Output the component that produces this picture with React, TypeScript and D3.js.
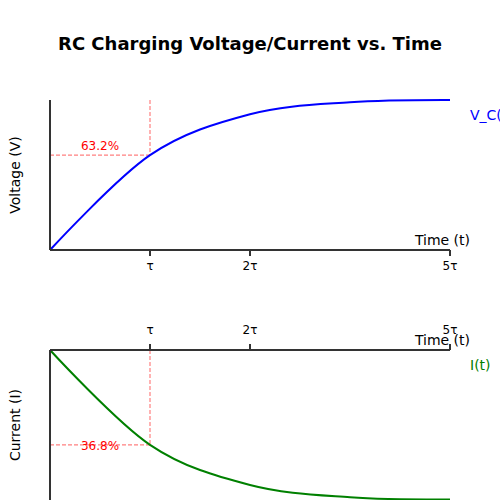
import React from "react";
import * as d3 from "d3";

const W = 500;
const H = 500;

const title = "RC Charging Voltage/Current vs. Time";
// time positions along the drawn axis (τ units as placed on the axis)
const timeSteps = [0, 1, 2, 3, 4];
const voltageValues = [0, 0.632, 0.905, 0.985, 1.0];
const currentValues = [1, 0.368, 0.1, 0.018, 0.003];
const tickValues = [1, 2, 4];
const tickLabels = ["τ", "2τ", "5τ"];
const markerTime = 1;
const voltageMarker = 0.632;
const currentMarker = 0.368;
const voltageMarkerLabel = "63.2%";
const currentMarkerLabel = "36.8%";

const FONT = "DejaVu Sans, sans-serif";
const AXIS = "#333";

export default function App() {
  const x = d3.scaleLinear().domain([0, 4]).range([50, 450]);
  const yV = d3.scaleLinear().domain([0, 1]).range([250, 100]);
  const yI = d3.scaleLinear().domain([0, 1]).range([500, 350]);

  const lineV = d3
    .line<number>()
    .x((_, i) => x(timeSteps[i]))
    .y((d) => yV(d))
    .curve(d3.curveCardinal.tension(0));
  const lineI = d3
    .line<number>()
    .x((_, i) => x(timeSteps[i]))
    .y((d) => yI(d))
    .curve(d3.curveCardinal.tension(0));

  const dash = { stroke: "red", strokeOpacity: 0.5, strokeDasharray: "4,2", strokeWidth: 1.2 };

  return (
    <svg
      width={W}
      height={H}
      style={{ position: "absolute", left: 0, top: 0, background: "#fff" }}
      fontFamily={FONT}
    >
      <text x={250} y={50} textAnchor="middle" fontSize={18} fontWeight="bold">
        {title}
      </text>

      {/* Voltage panel */}
      <g>
        <line x1={x(markerTime)} x2={x(markerTime)} y1={yV(1)} y2={yV(voltageMarker)} {...dash} />
        <line x1={x(0)} x2={x(markerTime)} y1={yV(voltageMarker)} y2={yV(voltageMarker)} {...dash} />
        <text x={x(0.5)} y={yV(voltageMarker) - 5} textAnchor="middle" fontSize={12} fill="red">
          {voltageMarkerLabel}
        </text>
        <path d={lineV(voltageValues) || ""} fill="none" stroke="blue" strokeWidth={2} />
        <line x1={x(0)} x2={x(4)} y1={yV(0)} y2={yV(0)} stroke={AXIS} strokeWidth={2} />
        <line x1={x(0)} x2={x(0)} y1={yV(0)} y2={yV(1)} stroke={AXIS} strokeWidth={2} />
        {tickValues.map((t, i) => (
          <g key={"tv" + i}>
            <line x1={x(t)} x2={x(t)} y1={yV(0)} y2={yV(0) + 6} stroke={AXIS} strokeWidth={2} />
            <text x={x(t)} y={yV(0) + 20} textAnchor="middle" fontSize={12}>
              {tickLabels[i]}
            </text>
          </g>
        ))}
        <text x={470} y={yV(0) - 5} textAnchor="end" fontSize={14}>
          Time (t)
        </text>
        <text transform={`translate(20,${yV(0.5)}) rotate(-90)`} textAnchor="middle" fontSize={14}>
          Voltage (V)
        </text>
        <text x={470} y={yV(1) + 20} fontSize={14} fill="blue">
          V_C(t)
        </text>
      </g>

      {/* Current panel */}
      <g>
        <line x1={x(markerTime)} x2={x(markerTime)} y1={yI(1)} y2={yI(currentMarker)} {...dash} />
        <line x1={x(0)} x2={x(markerTime)} y1={yI(currentMarker)} y2={yI(currentMarker)} {...dash} />
        <text x={x(0.5)} y={yI(currentMarker) + 5} textAnchor="middle" fontSize={12} fill="red">
          {currentMarkerLabel}
        </text>
        <path d={lineI(currentValues) || ""} fill="none" stroke="green" strokeWidth={2} />
        <line x1={x(0)} x2={x(4)} y1={yI(1)} y2={yI(1)} stroke={AXIS} strokeWidth={2} />
        <line x1={x(0)} x2={x(0)} y1={yI(1)} y2={yI(0)} stroke={AXIS} strokeWidth={2} />
        {tickValues.map((t, i) => (
          <g key={"ti" + i}>
            <line x1={x(t)} x2={x(t)} y1={yI(1)} y2={yI(1) - 6} stroke={AXIS} strokeWidth={2} />
            <text x={x(t)} y={yI(1) - 16} textAnchor="middle" fontSize={12}>
              {tickLabels[i]}
            </text>
          </g>
        ))}
        <text x={470} y={yI(1) - 5} textAnchor="end" fontSize={14}>
          Time (t)
        </text>
        <text transform={`translate(20,${yI(0.5)}) rotate(-90)`} textAnchor="middle" fontSize={14}>
          Current (I)
        </text>
        <text x={470} y={yI(1) + 20} fontSize={14} fill="green">
          I(t)
        </text>
      </g>
    </svg>
  );
}
